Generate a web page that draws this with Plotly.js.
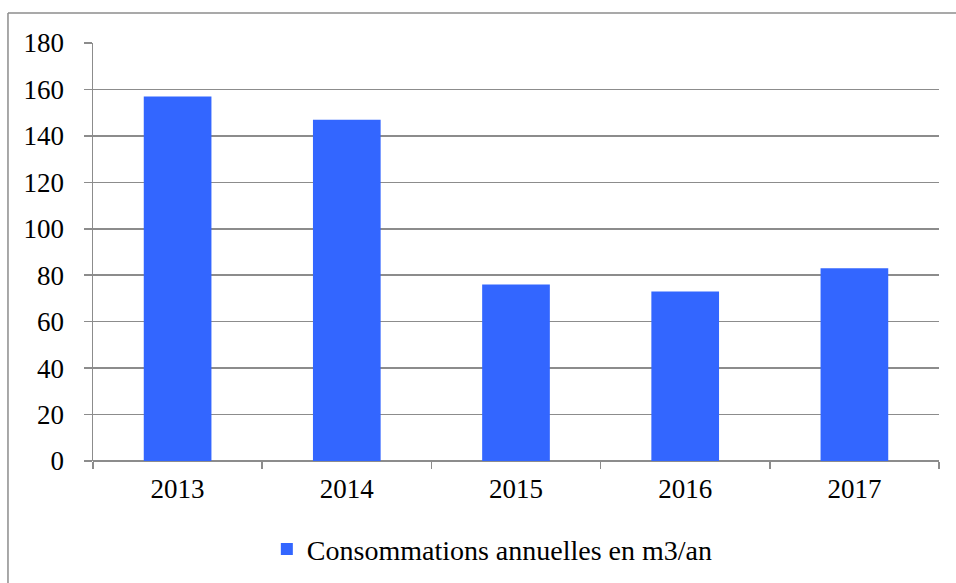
<!DOCTYPE html>
<html><head><meta charset="utf-8">
<script src="https://cdn.plot.ly/plotly-3.0.1.min.js"></script>
<style>html,body{margin:0;padding:0;background:#fff;overflow:hidden;}#chart{width:956px;height:583px;}</style>
</head><body>
<div id="chart"></div>
<script>
var years = ['2013','2014','2015','2016','2017'];
var consommations = [157,147,76,73,83];
var seriesName = 'Consommations annuelles en m3/an';
var yTicks = [0,20,40,60,80,100,120,140,160,180];

var font = {family:'Liberation Serif', size:27, color:'#000'};
var frameLine = {color:'#8c8c8c', width:1.5};
Plotly.newPlot('chart', [{
  type:'bar', x:years, y:consommations, name:seriesName,
  marker:{color:'#3366FF'}, showlegend:true
}], {
  width:956, height:583,
  margin:{l:93,r:17,t:43,b:122},
  paper_bgcolor:'#fff', plot_bgcolor:'#fff',
  font:font,
  bargap:0.6,
  showlegend:true,
  legend:{orientation:'h', xref:'container', yref:'container', x:0.515, xanchor:'center', y:0.058, yanchor:'middle', font:{family:'Liberation Serif', size:28, color:'#000'}, itemwidth:30},
  shapes:[
    {type:'line', xref:'paper', yref:'paper', x0:-0.1005, x1:-0.1005, y0:-0.35, y1:1.0718, line:frameLine},
    {type:'line', xref:'paper', yref:'paper', x0:-0.1005, x1:1.05, y0:1.0718, y1:1.0718, line:frameLine}
  ],
  xaxis:{type:'category', automargin:false, showgrid:false, showline:false, zeroline:false, ticks:'outside', tickson:'boundaries', ticklen:7, tickcolor:'#8c8c8c', tickwidth:1.5, tickfont:font, ticklabelstandoff:9},
  yaxis:{automargin:false, range:[0,180], tickvals:yTicks, ticktext:yTicks.map(String), showgrid:true, gridcolor:'#8c8c8c', gridwidth:1.5, zeroline:true, zerolinecolor:'#8c8c8c', zerolinewidth:1.5, showline:true, linecolor:'#8c8c8c', linewidth:1.5, ticks:'outside', ticklen:8, tickcolor:'#8c8c8c', tickwidth:1.5, tickfont:font, ticklabelstandoff:14}
}, {displayModeBar:false, staticPlot:true});
</script>
</body></html>
